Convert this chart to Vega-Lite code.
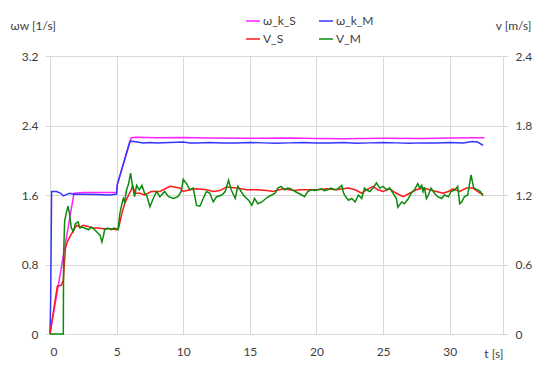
{
"$schema":"https://vega.github.io/schema/vega-lite/v6.json",
"width":453,"height":278,
"autosize":{"type":"none"},
"padding":{"left":50,"top":56,"right":47,"bottom":37},
"background":"white",
"config":{"font":"Lato","view":{"stroke":null},
 "axis":{"labelFont":"Lato","titleFont":"Lato","labelFontSize":12,"titleFontSize":12,"titleFontWeight":"normal","labelColor":"#404040","titleColor":"#404040","gridColor":"#D9D9D9","domainColor":"#D9D9D9","tickColor":"#D9D9D9"},
 "legend":{"labelFont":"Lato","labelFontSize":12,"labelColor":"#404040"}},
"datasets":{
"omega":[
{"t":0,"s":"ω_k_S","w":0},{"t":1.8,"s":"ω_k_S","w":1.62},{"t":2.5,"s":"ω_k_S","w":1.63},{"t":3.5,"s":"ω_k_S","w":1.63},{"t":4.5,"s":"ω_k_S","w":1.63},{"t":5.0,"s":"ω_k_S","w":1.63},{"t":5.05,"s":"ω_k_S","w":1.72},{"t":6.1,"s":"ω_k_S","w":2.26},{"t":6.5,"s":"ω_k_S","w":2.265},{"t":8,"s":"ω_k_S","w":2.258},{"t":10,"s":"ω_k_S","w":2.262},{"t":12,"s":"ω_k_S","w":2.256},{"t":15,"s":"ω_k_S","w":2.252},{"t":18,"s":"ω_k_S","w":2.255},{"t":20,"s":"ω_k_S","w":2.25},{"t":22,"s":"ω_k_S","w":2.248},{"t":25,"s":"ω_k_S","w":2.252},{"t":28,"s":"ω_k_S","w":2.25},{"t":30,"s":"ω_k_S","w":2.255},{"t":32,"s":"ω_k_S","w":2.26},{"t":32.6,"s":"ω_k_S","w":2.258},
{"t":0,"s":"ω_k_M","w":0},{"t":0.05,"s":"ω_k_M","w":0.4},{"t":0.12,"s":"ω_k_M","w":1.64},{"t":0.5,"s":"ω_k_M","w":1.64},{"t":0.8,"s":"ω_k_M","w":1.62},{"t":1.0,"s":"ω_k_M","w":1.59},{"t":1.3,"s":"ω_k_M","w":1.61},{"t":1.5,"s":"ω_k_M","w":1.62},{"t":1.8,"s":"ω_k_M","w":1.61},{"t":2.5,"s":"ω_k_M","w":1.61},{"t":3.5,"s":"ω_k_M","w":1.605},{"t":4.5,"s":"ω_k_M","w":1.6},{"t":5.0,"s":"ω_k_M","w":1.61},{"t":5.05,"s":"ω_k_M","w":1.72},{"t":6.0,"s":"ω_k_M","w":2.22},{"t":6.3,"s":"ω_k_M","w":2.215},{"t":7,"s":"ω_k_M","w":2.2},{"t":7.5,"s":"ω_k_M","w":2.205},{"t":8,"s":"ω_k_M","w":2.2},{"t":9,"s":"ω_k_M","w":2.205},{"t":10,"s":"ω_k_M","w":2.21},{"t":10.5,"s":"ω_k_M","w":2.2},{"t":11,"s":"ω_k_M","w":2.2},{"t":12,"s":"ω_k_M","w":2.205},{"t":13,"s":"ω_k_M","w":2.2},{"t":14,"s":"ω_k_M","w":2.2},{"t":15,"s":"ω_k_M","w":2.205},{"t":16,"s":"ω_k_M","w":2.2},{"t":17,"s":"ω_k_M","w":2.195},{"t":18,"s":"ω_k_M","w":2.2},{"t":19,"s":"ω_k_M","w":2.205},{"t":20,"s":"ω_k_M","w":2.2},{"t":21,"s":"ω_k_M","w":2.2},{"t":22,"s":"ω_k_M","w":2.205},{"t":23,"s":"ω_k_M","w":2.195},{"t":24,"s":"ω_k_M","w":2.2},{"t":25,"s":"ω_k_M","w":2.205},{"t":26,"s":"ω_k_M","w":2.2},{"t":27,"s":"ω_k_M","w":2.195},{"t":28,"s":"ω_k_M","w":2.2},{"t":29,"s":"ω_k_M","w":2.2},{"t":30,"s":"ω_k_M","w":2.205},{"t":31,"s":"ω_k_M","w":2.2},{"t":31.7,"s":"ω_k_M","w":2.215},{"t":32.1,"s":"ω_k_M","w":2.21},{"t":32.5,"s":"ω_k_M","w":2.17}
],
"vel":[
{"t":0,"s":"V_S","v":0},{"t":0.3,"s":"V_S","v":0.225},{"t":0.55,"s":"V_S","v":0.413},{"t":0.85,"s":"V_S","v":0.42},{"t":1.0,"s":"V_S","v":0.465},{"t":1.15,"s":"V_S","v":0.735},{"t":1.3,"s":"V_S","v":0.795},{"t":1.5,"s":"V_S","v":0.84},{"t":1.75,"s":"V_S","v":0.893},{"t":2.0,"s":"V_S","v":0.938},{"t":2.25,"s":"V_S","v":0.923},{"t":2.5,"s":"V_S","v":0.938},{"t":2.8,"s":"V_S","v":0.93},{"t":3.2,"s":"V_S","v":0.915},{"t":3.6,"s":"V_S","v":0.915},{"t":4.0,"s":"V_S","v":0.908},{"t":4.5,"s":"V_S","v":0.908},{"t":5.0,"s":"V_S","v":0.9},{"t":5.15,"s":"V_S","v":0.915},{"t":5.4,"s":"V_S","v":1.043},{"t":5.6,"s":"V_S","v":1.125},{"t":5.9,"s":"V_S","v":1.2},{"t":6.1,"s":"V_S","v":1.245},{"t":6.2,"s":"V_S","v":1.283},{"t":6.4,"s":"V_S","v":1.215},{"t":6.75,"s":"V_S","v":1.215},{"t":7.1,"s":"V_S","v":1.2},{"t":7.6,"s":"V_S","v":1.23},{"t":8.25,"s":"V_S","v":1.23},{"t":9.0,"s":"V_S","v":1.275},{"t":9.75,"s":"V_S","v":1.26},{"t":10.0,"s":"V_S","v":1.23},{"t":10.5,"s":"V_S","v":1.245},{"t":11.0,"s":"V_S","v":1.253},{"t":11.75,"s":"V_S","v":1.245},{"t":12.25,"s":"V_S","v":1.23},{"t":12.75,"s":"V_S","v":1.238},{"t":13.25,"s":"V_S","v":1.268},{"t":14.0,"s":"V_S","v":1.26},{"t":14.75,"s":"V_S","v":1.245},{"t":15.5,"s":"V_S","v":1.245},{"t":16.3,"s":"V_S","v":1.238},{"t":16.75,"s":"V_S","v":1.23},{"t":17.5,"s":"V_S","v":1.253},{"t":18.3,"s":"V_S","v":1.238},{"t":18.75,"s":"V_S","v":1.245},{"t":19.3,"s":"V_S","v":1.245},{"t":19.75,"s":"V_S","v":1.245},{"t":20.1,"s":"V_S","v":1.245},{"t":20.75,"s":"V_S","v":1.253},{"t":21.5,"s":"V_S","v":1.245},{"t":22.0,"s":"V_S","v":1.253},{"t":22.4,"s":"V_S","v":1.26},{"t":22.9,"s":"V_S","v":1.245},{"t":23.4,"s":"V_S","v":1.215},{"t":23.75,"s":"V_S","v":1.245},{"t":24.25,"s":"V_S","v":1.275},{"t":24.6,"s":"V_S","v":1.245},{"t":25.0,"s":"V_S","v":1.23},{"t":25.5,"s":"V_S","v":1.253},{"t":26.0,"s":"V_S","v":1.215},{"t":26.5,"s":"V_S","v":1.185},{"t":27.0,"s":"V_S","v":1.215},{"t":27.5,"s":"V_S","v":1.245},{"t":28.0,"s":"V_S","v":1.26},{"t":28.5,"s":"V_S","v":1.245},{"t":29.0,"s":"V_S","v":1.23},{"t":29.5,"s":"V_S","v":1.215},{"t":29.9,"s":"V_S","v":1.23},{"t":30.25,"s":"V_S","v":1.253},{"t":30.75,"s":"V_S","v":1.23},{"t":31.25,"s":"V_S","v":1.26},{"t":31.75,"s":"V_S","v":1.26},{"t":32.0,"s":"V_S","v":1.238},{"t":32.3,"s":"V_S","v":1.215},{"t":32.5,"s":"V_S","v":1.208},
{"t":0,"s":"V_M","v":0},{"t":1.0,"s":"V_M","v":0},{"t":1.02,"s":"V_M","v":0.675},{"t":1.1,"s":"V_M","v":0.975},{"t":1.2,"s":"V_M","v":1.035},{"t":1.35,"s":"V_M","v":1.103},{"t":1.45,"s":"V_M","v":1.05},{"t":1.6,"s":"V_M","v":0.915},{"t":1.75,"s":"V_M","v":0.885},{"t":1.9,"s":"V_M","v":0.953},{"t":2.1,"s":"V_M","v":0.968},{"t":2.25,"s":"V_M","v":0.915},{"t":2.4,"s":"V_M","v":0.923},{"t":2.6,"s":"V_M","v":0.915},{"t":2.9,"s":"V_M","v":0.9},{"t":3.1,"s":"V_M","v":0.923},{"t":3.35,"s":"V_M","v":0.9},{"t":3.6,"s":"V_M","v":0.87},{"t":3.75,"s":"V_M","v":0.855},{"t":3.9,"s":"V_M","v":0.795},{"t":4.0,"s":"V_M","v":0.84},{"t":4.1,"s":"V_M","v":0.9},{"t":4.35,"s":"V_M","v":0.915},{"t":4.6,"s":"V_M","v":0.9},{"t":4.8,"s":"V_M","v":0.915},{"t":5.0,"s":"V_M","v":0.908},{"t":5.1,"s":"V_M","v":0.9},{"t":5.25,"s":"V_M","v":1.043},{"t":5.4,"s":"V_M","v":1.125},{"t":5.5,"s":"V_M","v":1.17},{"t":5.6,"s":"V_M","v":1.14},{"t":5.75,"s":"V_M","v":1.245},{"t":5.9,"s":"V_M","v":1.298},{"t":6.05,"s":"V_M","v":1.388},{"t":6.2,"s":"V_M","v":1.275},{"t":6.35,"s":"V_M","v":1.185},{"t":6.5,"s":"V_M","v":1.283},{"t":6.7,"s":"V_M","v":1.245},{"t":6.9,"s":"V_M","v":1.283},{"t":7.1,"s":"V_M","v":1.215},{"t":7.25,"s":"V_M","v":1.2},{"t":7.5,"s":"V_M","v":1.099},{"t":7.75,"s":"V_M","v":1.17},{"t":8.0,"s":"V_M","v":1.23},{"t":8.25,"s":"V_M","v":1.185},{"t":8.6,"s":"V_M","v":1.23},{"t":8.9,"s":"V_M","v":1.185},{"t":9.25,"s":"V_M","v":1.17},{"t":9.6,"s":"V_M","v":1.185},{"t":9.85,"s":"V_M","v":1.23},{"t":10.0,"s":"V_M","v":1.335},{"t":10.25,"s":"V_M","v":1.298},{"t":10.5,"s":"V_M","v":1.245},{"t":10.75,"s":"V_M","v":1.26},{"t":11.0,"s":"V_M","v":1.11},{"t":11.25,"s":"V_M","v":1.103},{"t":11.5,"s":"V_M","v":1.17},{"t":11.75,"s":"V_M","v":1.23},{"t":12.0,"s":"V_M","v":1.215},{"t":12.25,"s":"V_M","v":1.14},{"t":12.5,"s":"V_M","v":1.185},{"t":12.9,"s":"V_M","v":1.2},{"t":13.15,"s":"V_M","v":1.23},{"t":13.4,"s":"V_M","v":1.328},{"t":13.6,"s":"V_M","v":1.245},{"t":13.9,"s":"V_M","v":1.17},{"t":14.1,"s":"V_M","v":1.275},{"t":14.5,"s":"V_M","v":1.2},{"t":14.9,"s":"V_M","v":1.155},{"t":15.15,"s":"V_M","v":1.11},{"t":15.35,"s":"V_M","v":1.17},{"t":15.6,"s":"V_M","v":1.125},{"t":15.9,"s":"V_M","v":1.14},{"t":16.2,"s":"V_M","v":1.17},{"t":16.4,"s":"V_M","v":1.185},{"t":16.9,"s":"V_M","v":1.215},{"t":17.1,"s":"V_M","v":1.26},{"t":17.35,"s":"V_M","v":1.275},{"t":17.6,"s":"V_M","v":1.245},{"t":17.85,"s":"V_M","v":1.26},{"t":18.1,"s":"V_M","v":1.253},{"t":18.4,"s":"V_M","v":1.23},{"t":18.65,"s":"V_M","v":1.215},{"t":18.9,"s":"V_M","v":1.2},{"t":19.1,"s":"V_M","v":1.185},{"t":19.35,"s":"V_M","v":1.23},{"t":19.6,"s":"V_M","v":1.245},{"t":19.85,"s":"V_M","v":1.238},{"t":20.1,"s":"V_M","v":1.245},{"t":20.35,"s":"V_M","v":1.253},{"t":20.6,"s":"V_M","v":1.238},{"t":20.85,"s":"V_M","v":1.245},{"t":21.1,"s":"V_M","v":1.26},{"t":21.35,"s":"V_M","v":1.245},{"t":21.6,"s":"V_M","v":1.253},{"t":21.9,"s":"V_M","v":1.283},{"t":22.0,"s":"V_M","v":1.23},{"t":22.1,"s":"V_M","v":1.2},{"t":22.4,"s":"V_M","v":1.155},{"t":22.65,"s":"V_M","v":1.17},{"t":22.9,"s":"V_M","v":1.14},{"t":23.15,"s":"V_M","v":1.2},{"t":23.4,"s":"V_M","v":1.17},{"t":23.6,"s":"V_M","v":1.26},{"t":23.75,"s":"V_M","v":1.245},{"t":24.0,"s":"V_M","v":1.23},{"t":24.25,"s":"V_M","v":1.26},{"t":24.5,"s":"V_M","v":1.305},{"t":24.75,"s":"V_M","v":1.26},{"t":25.0,"s":"V_M","v":1.275},{"t":25.25,"s":"V_M","v":1.245},{"t":25.5,"s":"V_M","v":1.26},{"t":25.75,"s":"V_M","v":1.215},{"t":26.0,"s":"V_M","v":1.17},{"t":26.1,"s":"V_M","v":1.095},{"t":26.4,"s":"V_M","v":1.14},{"t":26.6,"s":"V_M","v":1.125},{"t":26.9,"s":"V_M","v":1.17},{"t":27.1,"s":"V_M","v":1.215},{"t":27.35,"s":"V_M","v":1.245},{"t":27.6,"s":"V_M","v":1.298},{"t":27.75,"s":"V_M","v":1.26},{"t":27.9,"s":"V_M","v":1.283},{"t":28.0,"s":"V_M","v":1.23},{"t":28.1,"s":"V_M","v":1.268},{"t":28.25,"s":"V_M","v":1.17},{"t":28.4,"s":"V_M","v":1.2},{"t":28.6,"s":"V_M","v":1.26},{"t":28.85,"s":"V_M","v":1.215},{"t":29.1,"s":"V_M","v":1.185},{"t":29.4,"s":"V_M","v":1.17},{"t":29.6,"s":"V_M","v":1.2},{"t":29.9,"s":"V_M","v":1.185},{"t":30.1,"s":"V_M","v":1.23},{"t":30.4,"s":"V_M","v":1.245},{"t":30.6,"s":"V_M","v":1.275},{"t":30.75,"s":"V_M","v":1.125},{"t":30.9,"s":"V_M","v":1.14},{"t":31.1,"s":"V_M","v":1.185},{"t":31.35,"s":"V_M","v":1.2},{"t":31.6,"s":"V_M","v":1.373},{"t":31.8,"s":"V_M","v":1.26},{"t":32.1,"s":"V_M","v":1.245},{"t":32.3,"s":"V_M","v":1.23},{"t":32.5,"s":"V_M","v":1.193}
]},
"layer":[
{"data":{"name":"omega"},
 "mark":{"type":"line","strokeWidth":1.5},
 "encoding":{
  "x":{"field":"t","type":"quantitative","scale":{"domain":[0,34],"nice":false,"zero":false},
   "axis":{"values":[0,5,10,15,20,25,30],"format":"d","ticks":false,"labelPadding":12,"grid":true,"title":"t [s]","titleAlign":"right","titleX":453,"titleY":19,"titleBaseline":"middle","titleAnchor":null}},
  "y":{"field":"w","type":"quantitative","scale":{"domain":[0,3.2],"nice":false},
   "axis":{"orient":"left","values":[0,0.8,1.6,2.4,3.2],"format":".1~f","tickSize":5,"labelPadding":7,"grid":true,"title":"ωw [1/s]","titleAngle":0,"titleAlign":"left","titleBaseline":"middle","titleX":-40,"titleY":-31}},
  "color":{"field":"s","type":"nominal",
   "scale":{"domain":["ω_k_S","ω_k_M","V_S","V_M"],"range":["#FF22FF","#3535FF","#FF1A1A","#0B8B0B"]},
   "legend":{"title":null,"orient":"none","direction":"horizontal","legendX":195,"legendY":-43,"columns":2,"symbolType":"stroke","symbolSize":196,"symbolStrokeWidth":1.5,"labelOffset":2,"columnPadding":20,"rowPadding":4,"padding":0}}
 }},
{"data":{"name":"vel"},
 "mark":{"type":"line","strokeWidth":1.5},
 "encoding":{
  "x":{"field":"t","type":"quantitative"},
  "y":{"field":"v","type":"quantitative","scale":{"domain":[0,2.4],"nice":false},
   "axis":{"orient":"right","values":[0,0.6,1.2,1.8,2.4],"format":".1~f","tickSize":5,"labelPadding":7,"grid":false,"title":"v [m/s]","titleAngle":0,"titleAlign":"right","titleBaseline":"middle","titleX":28,"titleY":-31}},
  "color":{"field":"s","type":"nominal"}
 }}
],
"resolve":{"scale":{"y":"independent"}}
}
